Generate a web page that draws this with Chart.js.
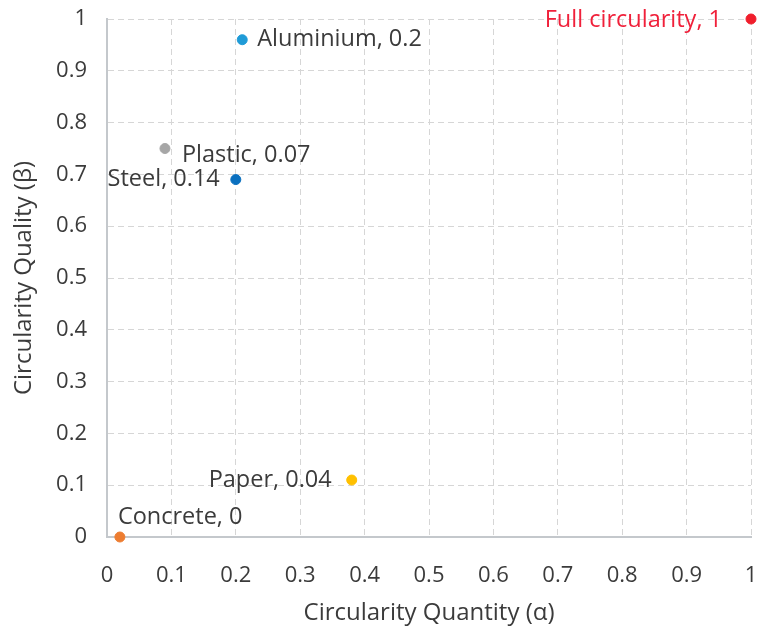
<!DOCTYPE html>
<html>
<head>
<meta charset="utf-8">
<script src="https://cdn.jsdelivr.net/npm/chart.js@4"></script>
<style>
  html, body { margin: 0; padding: 0; background: #fff; }
  #wrap { width: 758px; height: 634px; position: relative; }
</style>
</head>
<body>
<div id="wrap"><canvas id="circ"></canvas></div>
<script>
// values
var materials = ["Aluminium", "Plastic", "Steel", "Paper", "Concrete", "Full circularity"]
  , scores    = ["0.2", "0.07", "0.14", "0.04", "0", "1"]
  , quantity  = [0.21, 0.09, 0.20, 0.38, 0.02, 1]
  , quality   = [0.96, 0.75, 0.69, 0.11, 0, 1];

var colors = ["#1f9bd7", "#a6a6a6", "#0a70bf", "#ffc000", "#ed7d31", "#f01e2c"]
  , textColors = ["#3b3b3b", "#3b3b3b", "#3b3b3b", "#3b3b3b", "#3b3b3b", "#f0203a"];

// where each label sits relative to its point
var labelPlace = [
	{ dx: 15,  dy: 0,   align: "left" },
	{ dx: 17,  dy: 7,   align: "left" },
	{ dx: -16, dy: 0,   align: "right" },
	{ dx: -20, dy: 0,   align: "right" },
	{ dx: -2,  dy: -20, align: "left" },
	{ dx: -29, dy: 1,   align: "right" }
];

var fonts = "'Open Sans', sans-serif"
  , ink = "#3b3b3b";

var datasets = materials.map(function (name, i) {
	return {
		label: name + ", " + scores[i],
		data: [{ x: quantity[i], y: quality[i] }],
		backgroundColor: colors[i],
		borderColor: colors[i],
		pointRadius: 5,
		pointHoverRadius: 6,
		clip: false
	};
});

var pointLabels = {
	id: "pointLabels",
	afterDatasetsDraw: function (chart) {
		var ctx = chart.ctx;
		chart.data.datasets.forEach(function (ds, i) {
			var pt = chart.getDatasetMeta(i).data[0]
			  , p = labelPlace[i];
			ctx.save();
			ctx.font = "23.5px " + fonts;
			ctx.fillStyle = textColors[i];
			ctx.textAlign = p.align;
			ctx.textBaseline = "middle";
			ctx.fillText(ds.label, pt.x + p.dx, pt.y + p.dy);
			ctx.restore();
		});
	}
};

var grid = {
	color: "#d6d6d6",
	lineWidth: 1,
	drawTicks: false
};

new Chart(document.getElementById("circ"), {
	type: "scatter",
	data: { datasets: datasets },
	plugins: [pointLabels],
	options: {
		responsive: true,
		maintainAspectRatio: false,
		animation: false,
		layout: { padding: { top: 19, right: 7, left: 0, bottom: 0 } },
		plugins: {
			legend: { display: false }
		},
		scales: {
			x: {
				type: "linear",
				min: 0, max: 1,
				grid: grid,
				border: { display: true, color: "#c4c8cc", width: 2, dash: [6, 4] },
				ticks: {
					stepSize: 0.1,
					padding: 26,
					color: ink,
					font: { family: fonts, size: 22 },
					callback: function (v) { return Math.round(v * 10) / 10; }
				},
				title: {
					display: true,
					text: "Circularity Quantity (\u03b1)",
					color: ink,
					font: { family: fonts, size: 24 },
					padding: { top: 8, bottom: 6 }
				},
				afterFit: function (s) {
					s.height = 97;
					s.paddingLeft = 0;
					s.paddingRight = 0;
				}
			},
			y: {
				type: "linear",
				min: 0, max: 1,
				grid: grid,
				border: { display: true, color: "#c4c8cc", width: 2, dash: [6, 4] },
				ticks: {
					stepSize: 0.1,
					padding: 20,
					color: ink,
					font: { family: fonts, size: 22 },
					callback: function (v) { return Math.round(v * 10) / 10; }
				},
				title: {
					display: true,
					text: "Circularity Quality (\u03b2)",
					color: ink,
					font: { family: fonts, size: 24 },
					padding: { top: 10, bottom: 10 }
				},
				afterFit: function (s) {
					s.width = 107;
					s.paddingTop = 0;
					s.paddingBottom = 0;
				}
			}
		}
	}
});
</script>
</body>
</html>
